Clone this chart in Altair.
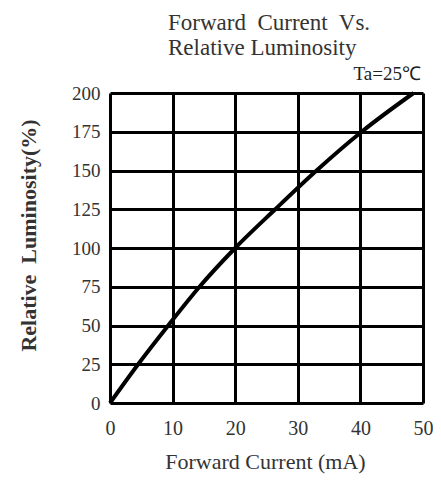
import altair as alt
import pandas as pd

# Curve
current_ma = [0, 4.5, 9.3, 14.3, 20, 26.4, 33, 40.2, 48.5]
luminosity = [0, 25, 50, 75, 100, 125, 150, 175, 200]

x_ticks = [0, 10, 20, 30, 40, 50]
y_ticks = [0, 25, 50, 75, 100, 125, 150, 175, 200]

NB = "\u00a0"
title_lines = ["Forward" + NB + " Current" + NB + " Vs.", "Relative Luminosity"]
condition_text = "Ta=25\u2103"
x_title = "Forward Current (mA)"
y_title = "Relative" + NB + " Luminosity(%)"

df = pd.DataFrame({"current": current_ma, "lum": luminosity})
one = pd.DataFrame({"k": [0]})

FONT = "Liberation Serif"
TXT = "#333333"

line = alt.Chart(df).mark_line(color="black", strokeWidth=4, interpolate="monotone").encode(
    x=alt.X("current:Q", scale=alt.Scale(domain=[0, 50], nice=False),
            axis=alt.Axis(values=x_ticks, title=x_title, grid=True,
                          gridColor="black", gridWidth=3, gridOpacity=1,
                          domain=False, ticks=False, labelPadding=31, labelFlush=False,
                          labelBaseline="alphabetic",
                          labelFont=FONT, labelFontSize=20, labelColor=TXT,
                          titleFont=FONT, titleFontSize=22, titleFontWeight="normal",
                          titleColor=TXT, titleX=155, titleY=65,
                          titleBaseline="alphabetic", titleAlign="center")),
    y=alt.Y("lum:Q", scale=alt.Scale(domain=[0, 200], nice=False),
            axis=alt.Axis(values=y_ticks, title=y_title, grid=True,
                          gridColor="black", gridWidth=3, gridOpacity=1,
                          domain=False, ticks=False, labelPadding=10, labelFlush=False,
                          labelFont=FONT, labelFontSize=19, labelColor=TXT,
                          titleFont=FONT, titleFontSize=22, titleFontWeight="bold",
                          titleColor=TXT, titleAngle=270, titleX=-82, titleY=142,
                          titleBaseline="middle", titleAlign="center")),
)

t1 = alt.Chart(one).mark_text(text=title_lines[0], font=FONT, fontSize=23, color=TXT,
                              align="left", baseline="alphabetic").encode(
    x=alt.value(58), y=alt.value(-63))
t2 = alt.Chart(one).mark_text(text=title_lines[1], font=FONT, fontSize=23, color=TXT,
                              align="left", baseline="alphabetic").encode(
    x=alt.value(58), y=alt.value(-38))
t3 = alt.Chart(one).mark_text(text=condition_text, font=FONT, fontSize=19, color="#222222",
                              align="right", baseline="alphabetic").encode(
    x=alt.value(311), y=alt.value(-13))

chart = alt.layer(line, t1, t2, t3).properties(
    width=313, height=310,
    autosize=alt.AutoSizeParams(type="none"),
    padding={"left": 102, "top": 85, "right": 10, "bottom": 71},
).configure_view(stroke="black", strokeWidth=3).configure(background="white")

chart.save("out.html", embed_options={"renderer": "svg", "actions": False})
